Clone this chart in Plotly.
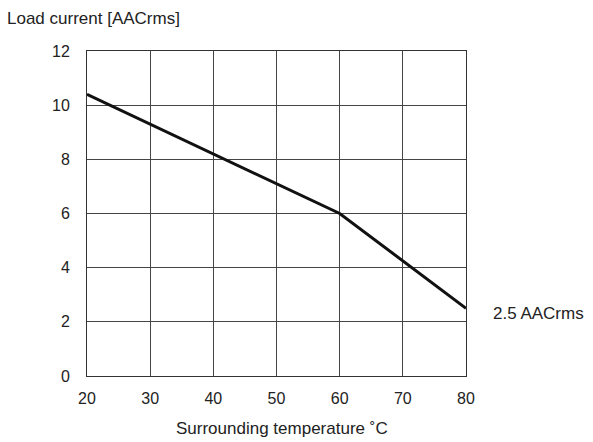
import plotly.graph_objects as go

temperature = [20, 60, 80]
load_current = [10.4, 6.0, 2.5]
x_ticks = [20, 30, 40, 50, 60, 70, 80]
y_ticks = [0, 2, 4, 6, 8, 10, 12]
end_label = "2.5 AACrms"
y_title = "Load current [AACrms]"
x_title = "Surrounding temperature ˚C"

font = "Liberation Sans, Arial, Helvetica, sans-serif"
txt = "#222222"

fig = go.Figure()
fig.add_trace(go.Scatter(x=temperature, y=load_current, mode="lines",
                         line=dict(color="#111111", width=3), showlegend=False,
                         cliponaxis=False))

fig.update_layout(
    width=593, height=442,
    margin=dict(l=87, r=127, t=51, b=66),
    paper_bgcolor="white", plot_bgcolor="white",
    font=dict(family=font, size=16, color=txt),
)
fig.update_xaxes(range=[20, 80], tickvals=x_ticks, showgrid=True, gridcolor="#444444",
                 gridwidth=1, showline=True, linecolor="#333333", linewidth=1, mirror=True,
                 zeroline=False, ticks="", ticklabelstandoff=8,
                 tickfont=dict(size=16, family=font, color=txt))
fig.update_yaxes(range=[0, 12], tickvals=y_ticks, showgrid=True, gridcolor="#444444",
                 gridwidth=1, showline=True, linecolor="#333333", linewidth=1, mirror=True,
                 zeroline=False, ticks="", ticklabelstandoff=13,
                 tickfont=dict(size=16, family=font, color=txt))

fig.add_annotation(x=0, xref="paper", xanchor="left", xshift=-82,
                   y=1, yref="paper", yanchor="middle", yshift=33,
                   text=y_title, showarrow=False,
                   font=dict(size=17, family=font, color=txt))
fig.add_annotation(x=0.5, xref="paper", xanchor="center", xshift=5,
                   y=0, yref="paper", yanchor="middle", yshift=-52,
                   text=x_title, showarrow=False,
                   font=dict(size=17, family=font, color=txt))
fig.add_annotation(x=temperature[-1], xref="x", xanchor="left", xshift=25,
                   y=load_current[-1], yref="y", yanchor="middle", yshift=-5,
                   text=end_label, showarrow=False,
                   font=dict(size=17, family=font, color=txt))

fig.write_html("out.html", config={"displayModeBar": False},
               post_script="document.body.style.margin='0';")
